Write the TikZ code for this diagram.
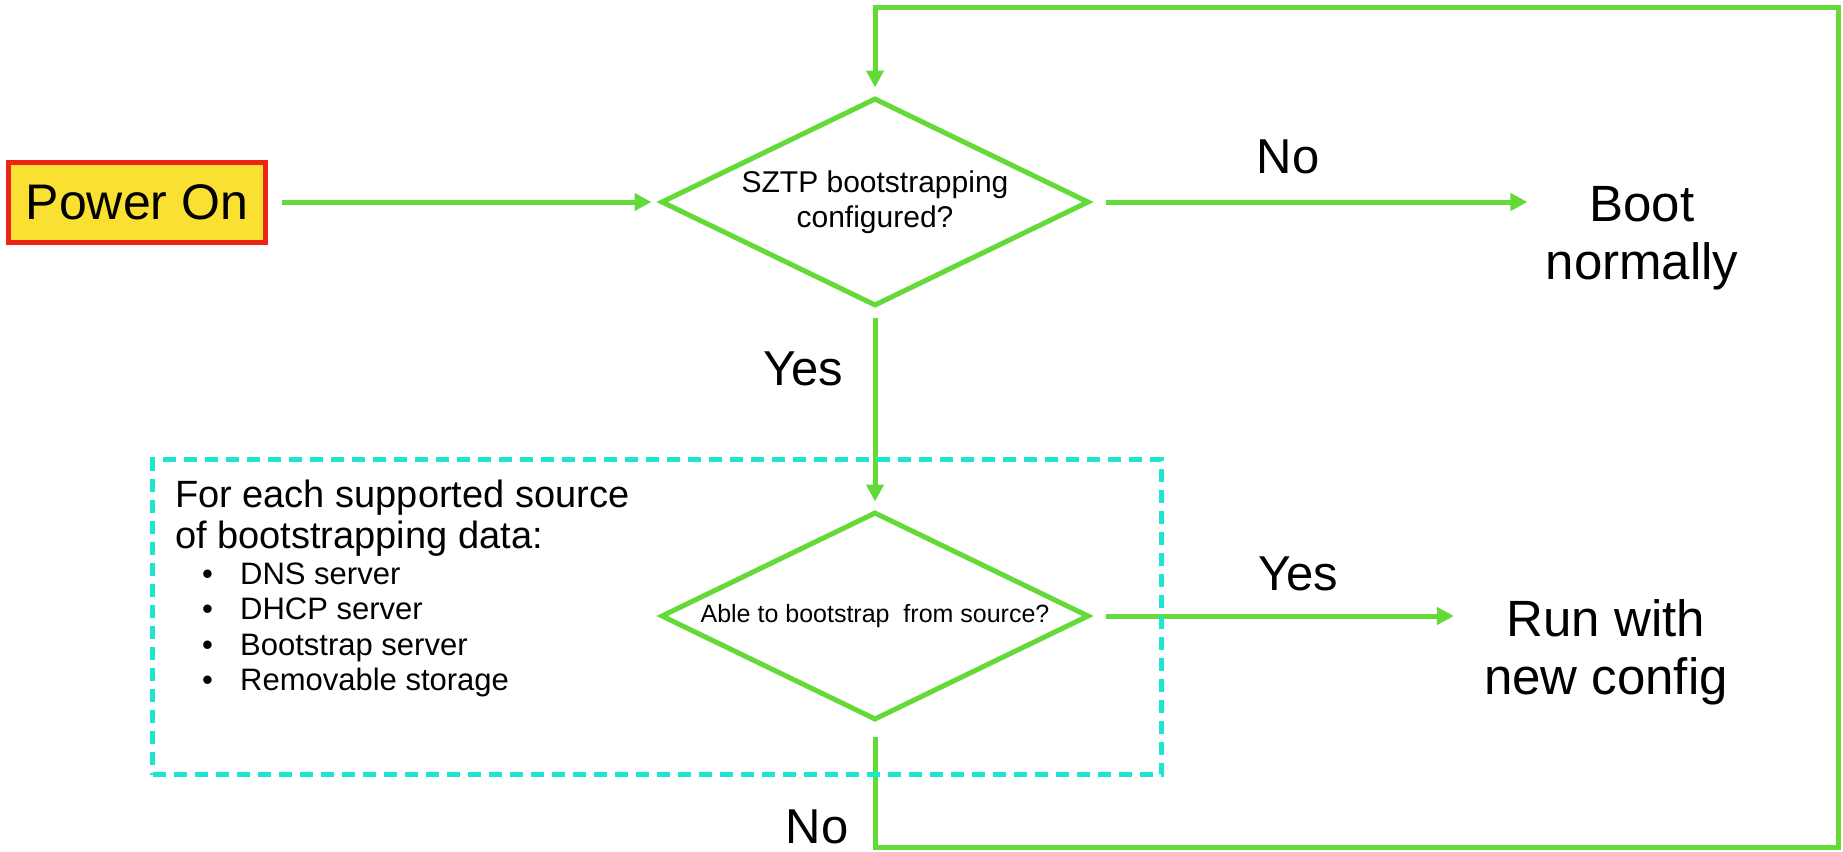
\documentclass[tikz,border=0pt]{standalone}
\usepackage{fontspec}
\setmainfont{Liberation Sans}
\usetikzlibrary{shapes.geometric,arrows.meta,calc}
\definecolor{flowgreen}{RGB}{99,218,56}
\definecolor{boxcyan}{RGB}{28,230,208}
\definecolor{pwryellow}{RGB}{250,224,50}
\definecolor{pwrred}{RGB}{236,36,20}
\begin{document}
\begin{tikzpicture}[x=1pt,y=-1pt,
  flow/.style={draw=flowgreen, line width=5pt, -{Triangle[length=17pt,width=17pt]}},
  decision/.style={diamond, draw=flowgreen, line width=5pt, aspect=2, inner sep=0pt,
    minimum width=428pt, minimum height=208pt, align=center},
  lbl/.style={font=\fontsize{49}{56}\selectfont, anchor=base, inner sep=0pt},
  big/.style={font=\fontsize{51}{58}\selectfont, anchor=base, inner sep=0pt}
]
\useasboundingbox (0,0) rectangle (1843,851);

% nodes
\node[draw=pwrred, fill=pwryellow, line width=5pt, minimum width=257pt, minimum height=80pt,
  inner sep=0pt, font=\fontsize{50}{58}\selectfont] (power) at (137,202) {Power On};
\node[decision, font=\fontsize{30}{35}\selectfont] (d1) at (875,202) {SZTP bootstrapping\\configured?};
\node[decision, font=\fontsize{25}{30}\selectfont] (d2) at (875,616) {Able to bootstrap\ \ from source?};
\node[big] (boot) at (1642,221) {\begin{tabular}[t]{@{}c@{}}Boot\\normally\end{tabular}};
\node[big] (run) at (1606,636) {\begin{tabular}[t]{@{}c@{}}Run with\\new config\end{tabular}};
\node[anchor=base west, inner sep=0pt, font=\fontsize{38}{41}\selectfont] (src) at (175,507)
  {\begin{tabular}[t]{@{}l@{}}For each supported source\\of bootstrapping data:\end{tabular}};
\node[anchor=base west, inner sep=0pt, font=\fontsize{31}{35.5}\selectfont] (list) at (202,584)
  {\begin{tabular}[t]{@{}l@{}l@{}}
   \makebox[38pt][l]{\textbullet} & DNS server\\
   \makebox[38pt][l]{\textbullet} & DHCP server\\
   \makebox[38pt][l]{\textbullet} & Bootstrap server\\
   \makebox[38pt][l]{\textbullet} & Removable storage
   \end{tabular}};

% labels
\node[lbl] (no1) at (1288,173) {No};
\node[lbl] (yes1) at (803,385) {Yes};
\node[lbl] (yes2) at (1298,590) {Yes};
\node[lbl] (no2) at (817,843) {No};

% loop coordinates
\coordinate (lb) at (875,847);
\coordinate (rb) at (1838,847);
\coordinate (rt) at (1838,7.5);
\coordinate (lt) at (875,7.5);

% connectors
\draw[flow, shorten <=14pt, shorten >=7pt] (power.east) -- (d1.west);
\draw[flow, shorten <=14pt, shorten >=18pt] (d1.east) -- (d1.east -| boot.west);
\draw[flow, shorten <=9pt, shorten >=8pt] (d1.south) -- (d2.north);
\draw[flow, shorten <=14pt, shorten >=30pt] (d2.east) -- (d2.east -| run.west);
\draw[flow, shorten <=14pt, shorten >=8pt] (d2.south) -- (lb) -- (rb) -- (rt) -- (lt) -- (d1.north);

% dashed group box
\node[draw=boxcyan, line width=5pt, dash pattern=on 13pt off 8pt, minimum width=1009pt,
  minimum height=315pt, inner sep=0pt] (grp) at (657,617) {};
\end{tikzpicture}
\end{document}
